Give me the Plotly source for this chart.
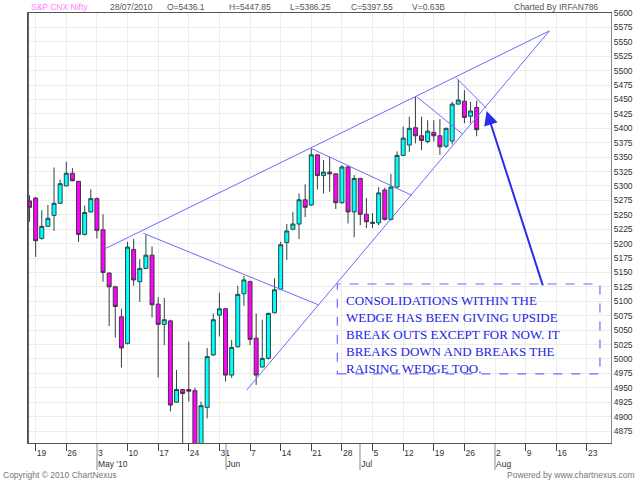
import pandas as pd
import plotly.graph_objects as go

# ---------------- data ----------------
sessions = pd.bdate_range("2010-04-16", "2010-08-27")   # trading-day axis (incl. empty future days)
n_candles = 74
dates = [d.strftime("%Y-%m-%d") for d in sessions[:n_candles]]

opens = [5274, 5279, 5209, 5230, 5249, 5270, 5300, 5322, 5308, 5216, 5255,
         5278, 5224, 5149, 5125, 5073, 5027, 5190, 5134, 5157, 5180,
         5095, 5060, 5066, 4925, 4947, 4947, 4945, 4820, 4916, 5007,
         5076, 5087, 4972, 5021, 5113, 5134, 5036, 4986, 5001, 5080,
         5121, 5202, 5225, 5234, 5276, 5267, 5354, 5318, 5324, 5321,
         5271, 5333, 5255, 5313, 5251, 5235, 5236, 5293, 5242, 5298,
         5353, 5371, 5401, 5387, 5377, 5393, 5387, 5369, 5378, 5442,
         5447, 5421, 5436.1]
highs = [5284, 5281, 5258, 5267, 5332, 5311, 5342, 5331, 5309, 5266, 5294,
         5280, 5251, 5150, 5127, 5087, 5203, 5208, 5173, 5215, 5195,
         5107, 5106, 5068, 4981, 4948, 5030, 4950, 4926, 5019, 5079,
         5115, 5088, 5033, 5127, 5144, 5136, 5079, 5068, 5080, 5140,
         5203, 5234, 5255, 5287, 5303, 5365, 5355, 5345, 5351, 5322,
         5336, 5335, 5319, 5314, 5279, 5253, 5298, 5297, 5321, 5360,
         5403, 5420, 5455, 5420, 5414, 5414, 5416, 5401, 5446, 5484,
         5466, 5446, 5447.85]
lows = [5238, 5177, 5207, 5229, 5222, 5269, 5300, 5308, 5203, 5214, 5254,
        5209, 5134, 5057, 5037, 4985, 5025, 5127, 5099, 5156, 5072,
        4968, 5024, 4909, 4924, 4840, 4926, 4786, 4810, 4897, 5005,
        5039, 4961, 4967, 5020, 5092, 5024, 4955, 4985, 4999, 5079,
        5120, 5172, 5223, 5208, 5246, 5265, 5294, 5287, 5290, 5260,
        5269, 5235, 5211, 5232, 5227, 5227, 5232, 5240, 5240, 5297,
        5352, 5359, 5374, 5362, 5374, 5377, 5354, 5366, 5372, 5441,
        5409, 5409, 5386.25]
closes = [5263, 5205, 5230, 5244, 5270, 5304, 5322, 5309, 5216, 5254, 5278,
          5223, 5150, 5125, 5091, 5019, 5194, 5137, 5157, 5180, 5094,
          5060, 5068, 4920, 4947, 4940, 4944, 4807, 4919, 5004, 5068,
          5087, 4972, 5020, 5112, 5137, 5034, 4972, 5001, 5079, 5120,
          5198, 5222, 5234, 5276, 5263, 5354, 5318, 5324, 5321, 5271,
          5333, 5255, 5313, 5251, 5238, 5237, 5288, 5242, 5298, 5353,
          5383, 5400, 5387, 5379, 5395, 5387, 5368, 5400, 5442, 5449,
          5419, 5430, 5397.55]
volume_label = "0.63B"

# trend lines drawn on the chart (start/end as date-time, price)
line_start_dates = ["2010-05-04 12:00", "2010-06-04 11:00", "2010-05-12 14:00",
                    "2010-06-21 00:00", "2010-07-14 05:00", "2010-07-22 15:00"]
line_start_prices = [5192, 4946, 5218, 5365, 5455, 5488]
line_end_dates = ["2010-08-12 21:00", "2010-08-12 21:00", "2010-06-22 03:00",
                  "2010-07-13 09:00", "2010-07-23 17:00", "2010-07-29 14:00"]
line_end_prices = [5569, 5569, 5094, 5284, 5390, 5435]

arrow_tail = ("2010-08-11 21:00", 5125)
arrow_head = ("2010-07-29 15:00", 5430)

note_box_dates = ["2010-06-25 06:00", "2010-08-25 03:00"]
note_box_prices = [4974, 5130]
note_text = ("CONSOLIDATIONS WITHIN THE<br>WEDGE HAS BEEN GIVING UPSIDE<br>"
             "BREAK OUTS EXCEPT FOR NOW. IT<br>BREAKS DOWN AND BREAKS THE<br>"
             "RAISING WEDGE TOO.")

y_range = [4854.2, 5600]

# ---------------- helpers ----------------
sess_index = {d.strftime("%Y-%m-%d"): i for i, d in enumerate(sessions)}


def pos(s):
    t = pd.Timestamp(s)
    return sess_index[t.strftime("%Y-%m-%d")] + (t.hour + t.minute / 60) / 24


x_candles = [pos(d) for d in dates]
monday_idx = [i for i, d in enumerate(sessions) if d.weekday() == 0]
monday_txt = [str(sessions[i].day) for i in monday_idx]
month_idx, month_txt = [], []
for i, d in enumerate(sessions):
    if i > 0 and d.month != sessions[i - 1].month:
        month_idx.append(i)
        month_txt.append(d.strftime("%b") + (" '10" if d.month == 5 else ""))

x_range = [-0.25, 94.93]

# pixel helpers for page furniture (plot area 28..611 x 13..443)
L, R, T, B = 28, 611, 13, 443


def px(xp):
    return (xp - L) / (R - L)


def py(yp):
    return (B - yp) / (B - T)


SANS = "Liberation Sans, Arial, sans-serif"
SERIF = "Liberation Serif, Times New Roman, serif"

fig = go.Figure()
fig.add_trace(go.Candlestick(
    x=x_candles, open=opens, high=highs, low=lows, close=closes,
    increasing=dict(fillcolor="#00ffff", line=dict(color="#244848", width=1)),
    decreasing=dict(fillcolor="#ff00ff", line=dict(color="#3a3a3a", width=1)),
    whiskerwidth=0, showlegend=False, hoverinfo="skip"))

# invisible trace to activate the month axis
fig.add_trace(go.Scatter(x=month_idx, y=[y_range[0]] * len(month_idx), xaxis="x2",
                         mode="markers", marker=dict(opacity=0), showlegend=False,
                         hoverinfo="skip"))

shapes = []
for xs, ys, xe, ye in zip(line_start_dates, line_start_prices, line_end_dates, line_end_prices):
    shapes.append(dict(type="line", xref="x", yref="y", x0=pos(xs), y0=ys, x1=pos(xe), y1=ye,
                       line=dict(color="#6b6bff", width=1)))
shapes.append(dict(type="rect", xref="x", yref="y",
                   x0=pos(note_box_dates[0]), x1=pos(note_box_dates[1]),
                   y0=note_box_prices[0], y1=note_box_prices[1],
                   line=dict(color="#6b6bff", width=1.2, dash="dash")))
# darker left frame edge
shapes.append(dict(type="line", xref="paper", yref="paper", x0=0, x1=0, y0=0, y1=1,
                   line=dict(color="#333333", width=1.5)))

annotations = [
    dict(x=pos(arrow_head[0]), y=arrow_head[1], ax=pos(arrow_tail[0]), ay=arrow_tail[1],
         xref="x", yref="y", axref="x", ayref="y", text="", showarrow=True,
         arrowhead=2, arrowsize=1.4, arrowwidth=2, arrowcolor="#2b2bea"),
    dict(x=pos(note_box_dates[0]), y=note_box_prices[1], xref="x", yref="y",
         xanchor="left", yanchor="top", xshift=7, yshift=-7, align="left",
         showarrow=False, text=note_text,
         font=dict(family=SERIF, size=13, color="#2323e6")),
]

header = [
    ("S&P CNX Nifty", 29, "#ff80ff"),
    (pd.Timestamp(dates[-1]).strftime("%d/%m/%Y"), 108, "#555555"),
    (f"O={opens[-1]}", 165, "#555555"),
    (f"H={highs[-1]}", 227, "#555555"),
    (f"L={lows[-1]}", 288, "#555555"),
    (f"C={closes[-1]}", 349, "#555555"),
    (f"V={volume_label}", 410, "#555555"),
]
for txt, xl, col in header:
    annotations.append(dict(x=px(xl), y=py(7), xref="paper", yref="paper", text=txt,
                            xanchor="left", yanchor="middle", showarrow=False,
                            font=dict(family=SANS, size=8.5, color=col)))
annotations.append(dict(x=px(600), y=py(7), xref="paper", yref="paper",
                        text="Charted By IRFAN786", xanchor="right", yanchor="middle",
                        showarrow=False, font=dict(family=SANS, size=8.5, color="#555555")))
annotations.append(dict(x=px(1), y=py(474.5), xref="paper", yref="paper",
                        text="Copyright © 2010 ChartNexus", xanchor="left", yanchor="middle",
                        showarrow=False, font=dict(family=SANS, size=8.5, color="#777777")))
annotations.append(dict(x=px(637), y=py(474.5), xref="paper", yref="paper",
                        text="Powered by www.chartnexus.com", xanchor="right", yanchor="middle",
                        showarrow=False, font=dict(family=SANS, size=8.5, color="#777777")))

fig.update_layout(
    width=640, height=480, autosize=False,
    margin=dict(l=L, r=640 - R, t=T, b=480 - B),
    paper_bgcolor="white", plot_bgcolor="white",
    boxgap=0.35, boxgroupgap=0,
    shapes=shapes, annotations=annotations,
    xaxis=dict(range=x_range, tickmode="array", tickvals=monday_idx, ticktext=monday_txt,
               ticks="outside", ticklen=7, tickcolor="#444444", tickwidth=1,
               ticklabelposition="outside right", ticklabelstandoff=2,
               tickfont=dict(family=SANS, size=8.5, color="#333333"),
               showgrid=True, gridcolor="#ececec", gridwidth=1,
               showline=True, linecolor="#555555", linewidth=1, mirror=True,
               zeroline=False, rangeslider=dict(visible=False), fixedrange=True,
               automargin=False),
    xaxis2=dict(overlaying="x", anchor="y", side="bottom", range=x_range,
                tickmode="array", tickvals=month_idx, ticktext=month_txt,
                ticks="outside", ticklen=26, tickwidth=2, tickcolor="#c4c4c4",
                ticklabelposition="outside right", ticklabelstandoff=13,
                tickfont=dict(family=SANS, size=8.5, color="#333333"),
                showgrid=False, showline=False, zeroline=False, automargin=False),
    yaxis=dict(range=y_range, side="right", tick0=0, dtick=25,
               ticks="", tickfont=dict(family=SANS, size=8.5, color="#333333"),
               showgrid=True, gridcolor="#ececec", gridwidth=1,
               showline=True, linecolor="#888888", linewidth=1, mirror=True,
               zeroline=False, fixedrange=True, automargin=False),
)

fig.write_html("out.html", config={"displayModeBar": False, "staticPlot": True},
               post_script="document.body.style.margin='0';document.body.style.overflow='hidden';")
